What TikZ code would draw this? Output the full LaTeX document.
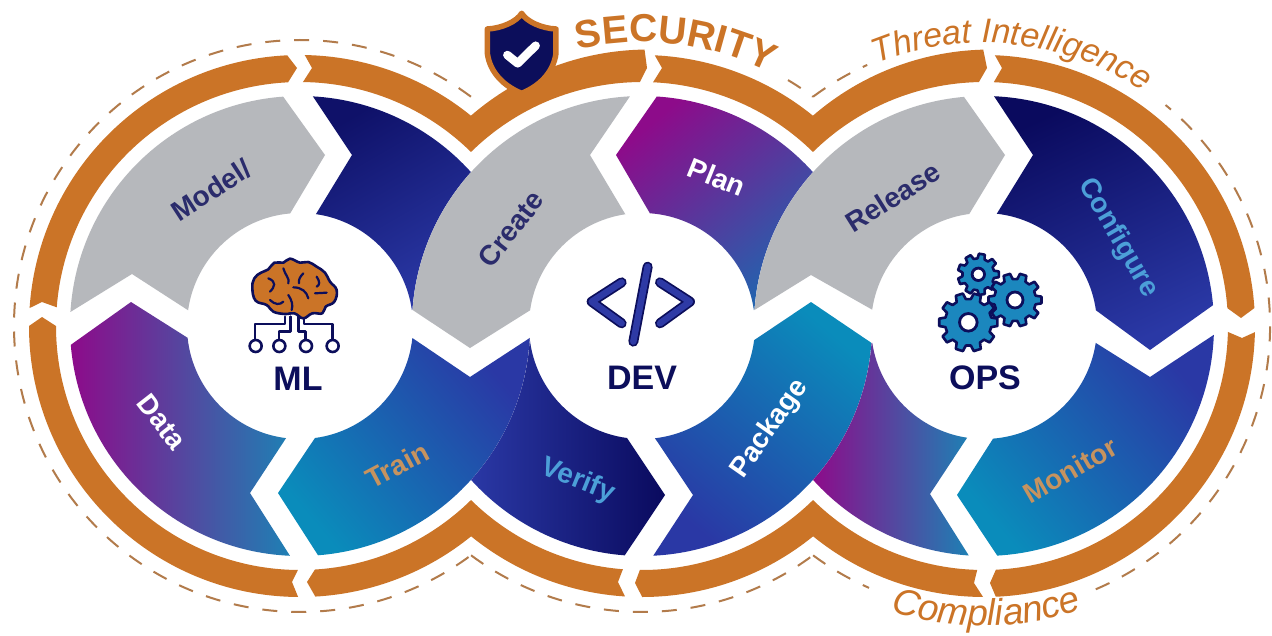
\documentclass[tikz,border=0pt]{standalone}
\usepackage{fontspec}
\setmainfont{Liberation Sans}
\usetikzlibrary{calc,decorations.text}
\definecolor{band}{HTML}{CB7427}
\definecolor{dashc}{HTML}{B27B4B}
\definecolor{stonegray}{HTML}{B6B8BC}
\definecolor{navy}{HTML}{0C0E5B}
\definecolor{grayink}{HTML}{2B2C6C}
\definecolor{tan}{HTML}{C6935F}
\definecolor{skyink}{HTML}{4C9FD8}
\definecolor{magent}{HTML}{8D0B8A}
\definecolor{teal1}{HTML}{0A8CBB}
\definecolor{teal2}{HTML}{1E80B4}
\definecolor{royal}{HTML}{2A38A5}
\definecolor{deep}{HTML}{0A0A5E}
\definecolor{gearfill}{HTML}{1B87BE}
\definecolor{codeblue}{HTML}{2E3AA5}
\tikzset{
  grad/.style n args={3}{top color=#1,bottom color=#2,shading angle=#3},
  stone/.style={fill=stonegray},
  bandseg/.style={fill=band},
  dashring/.style={draw=dashc,line width=2pt,dash pattern=on 15pt off 14pt},
  lab/.style={font=\bfseries\fontsize{28}{28}\selectfont,inner sep=0pt},
  hub/.style={font=\bfseries\fontsize{34}{34}\selectfont,text=navy,inner sep=0pt},
  iconline/.style={draw=navy,line width=2.6pt,line cap=round,line join=round},
  trace/.style={draw=navy,line width=2.6pt,line cap=round,line join=round},
  sulcus/.style={draw=navy,line width=2.2pt,line cap=round},
}
\newcommand\gearicon[5]{%
  \begin{scope}[shift={(#1,#2)}]
    \pgfmathsetmacro\gs{360/#5}
    \draw[fill=gearfill,draw=navy,line width=2.6pt,line join=round]
      ({-0.33*\gs}:#4) \foreach \k in {0,...,\numexpr#5-1\relax}{
        -- ({(\k-0.33)*\gs}:#4) -- ({(\k-0.2)*\gs}:#3) -- ({(\k+0.2)*\gs}:#3) -- ({(\k+0.33)*\gs}:#4)
      } -- cycle;
    \draw[fill=white,draw=navy,line width=2.8pt] (0,0) circle[radius=#3*0.3];
  \end{scope}}
\begin{document}
\begin{tikzpicture}[x=1pt,y=1pt]
\useasboundingbox (0,0) rectangle (1272,-635);
\fill[white] (0,0) rectangle (1272,-635);
\begin{scope}[yscale=-1]
\coordinate (ml) at (300,326);
\coordinate (dv) at (642,326);
\coordinate (op) at (984,326);
% dashed outer ring
\draw[dashring] ($(ml)+(306.7:286)$) arc (306.7:53.3:286);
\draw[dashring] ($(dv)+(126.7:286)$) arc (126.7:53.3:286);
\draw[dashring] ($(op)+(126.7:286)$) arc (126.7:113.7:286);
\draw[dashring] ($(op)+(67:286)$) arc (67:-50.6:286);
\draw[dashring] ($(op)+(233.3:286)$) arc (233.3:245.9:286);
\draw[dashring] ($(dv)+(300.7:286)$) arc (300.7:306.7:286);
% orange bands
\fill[bandseg] ($(ml)+(183.8:271)$) arc (183.8:267.3:271) -- (297,68) -- ($(ml)+(267.2:244)$) arc (267.2:184.4:244) -- (42,302) -- cycle;
\fill[bandseg] ($(ml)+(271:271)$) arc (271:309.1:271) arc (229.1:269.2:271) -- (647,68) -- ($(dv)+(269.5:244)$) arc (269.5:225.5:244) arc (314.5:270.7:244) -- (312,68) -- cycle;
\fill[bandseg] ($(dv)+(272.7:271)$) arc (272.7:309.1:271) arc (229.1:268.5:271) -- (987,68) -- ($(op)+(268.8:244)$) arc (268.8:225.5:244) arc (314.5:272.6:244) -- (662,68) -- cycle;
\fill[bandseg] ($(op)+(272.3:271)$) arc (272.3:356.2:271) -- (1241,318) -- ($(op)+(355.8:244)$) arc (355.8:272.3:244) -- (1002,68) -- cycle;
\fill[bandseg] ($(op)+(1.3:271)$) arc (1.3:87.5:271) -- (990,583) -- ($(op)+(87.2:244)$) arc (87.2:1.4:244) -- (1242,338) -- cycle;
\fill[bandseg] ($(op)+(90.2:271)$) arc (90.2:129.1:271) arc (50.9:90:271) -- (635,583) -- ($(dv)+(90.5:244)$) arc (90.5:45.5:244) arc (134.5:91.6:244) -- (974,583) -- cycle;
\fill[bandseg] ($(dv)+(93.6:271)$) arc (93.6:129.1:271) arc (50.9:86.8:271) -- (307,582) -- ($(ml)+(86.5:244)$) arc (86.5:45.5:244) arc (134.5:94.5:244) -- (618,582) -- cycle;
\fill[bandseg] ($(ml)+(90.4:271)$) arc (90.4:180:271) -- (42,317) -- ($(ml)+(180:244)$) arc (180:90.5:244) -- (292,582) -- cycle;
% ML segments
\path[stone] ($(ml)+(183.5:230)$) arc (183.5:265.8:230) -- (325,155) -- ($(ml)+(265:113)$) arc (265:188:113) -- (132,274) -- cycle;
\path[grad={deep!85!royal}{royal}{30}] ($(ml)+(273.2:230)$) arc (273.2:318:230) arc (222:184:230) -- ($(ml)+(351.9:113)$) arc (351.9:278.1:113) -- (352,155) -- cycle;
\path[grad={magent}{teal2}{90}] ($(ml)+(175.3:230)$) arc (175.3:92.5:230) -- (250,493) -- ($(ml)+(97.1:113)$) arc (97.1:174:113) -- (131,302) -- cycle;
\path[grad={royal}{teal1}{-50}] ($(ml)+(3:230)$) arc (3:85.5:230) -- (278,493) -- ($(ml)+(82.4:113)$) arc (82.4:6.1:113) -- (470,377) -- cycle;
% DEV segments
\path[stone] ($(dv)+(184:230)$) arc (184:267:230) -- (590,155) -- ($(dv)+(261.5:113)$) arc (261.5:188:113) -- (470,348) -- cycle;
\path[grad={magent}{teal2!60!royal}{40}] ($(dv)+(273.7:230)$) arc (273.7:318:230) arc (222:184:230) -- ($(dv)+(351.9:113)$) arc (351.9:274:113) -- (616,155) -- cycle;
\path[grad={royal}{deep}{90}] ($(dv)+(94.3:230)$) arc (94.3:138:230) arc (42:3:230) -- ($(dv)+(174:113)$) arc (174:97.6:113) -- (665,495) -- cycle;
\path[grad={teal1}{royal}{-40}] ($(dv)+(4.2:230)$) arc (4.2:87.2:230) -- (693,495) -- ($(dv)+(83.4:113)$) arc (83.4:7.2:113) -- (811,302) -- cycle;
% OPS segments
\path[stone] ($(op)+(184:230)$) arc (184:265:230) -- (1005,155) -- ($(op)+(262.5:113)$) arc (262.5:188.3:113) -- (811,275) -- cycle;
\path[grad={deep}{royal}{25}] ($(op)+(272.5:230)$) arc (272.5:354.8:230) -- (1150,350) -- ($(op)+(352:113)$) arc (352:276.5:113) -- (1033,155) -- cycle;
\path[grad={royal}{teal1}{-50}] ($(op)+(2.2:230)$) arc (2.2:86.7:230) -- (957,495) -- ($(op)+(85.4:113)$) arc (85.4:8.6:113) -- (1150,377) -- cycle;
\path[grad={magent}{teal2}{90}] ($(op)+(171.4:113)$) arc (171.4:98.6:113) -- (930,494) -- ($(op)+(93.8:230)$) arc (93.8:138:230) arc (42:4.2:230) -- cycle;
% segment labels
\node[lab,text=grayink,rotate=33] (tmodel) at (211,190) {Model/};
\node[lab,text=white,rotate=-52] (tdata) at (162,422) {Data};
\node[lab,text=tan,rotate=28] (ttrain) at (397,465) {Train};
\node[lab,text=grayink,rotate=52] (tcreate) at (511,229) {Create};
\node[lab,text=skyink,rotate=-22] (tverify) at (578,481) {Verify};
\node[lab,text=white,rotate=-22] (tplan) at (717,177) {Plan};
\node[lab,text=white,rotate=55] (tpackage) at (770,429) {Package};
\node[lab,text=grayink,rotate=32] (trelease) at (893,197) {Release};
\node[lab,text=skyink,rotate=-60] (tconfigure) at (1118,238) {Configure};
\node[lab,text=tan,rotate=30] (tmonitor) at (1070,470) {Monitor};
% hubs
\node[hub] (tml) at (298,379) {ML};
\node[hub] (tdev) at (642,378) {DEV};
\node[hub] (tops) at (985,378) {OPS};
% brain icon
\begin{scope}[shift={(235,250)},x=0.3333pt,y=0.3333pt]
  \draw[trace] (150,200) -- (150,222) -- (60,222) -- (60,268);
  \draw[trace] (167,200) -- (167,245) -- (132,245) -- (132,268);
  \draw[trace] (190,200) -- (190,245) -- (212,245) -- (212,268);
  \draw[trace] (207,200) -- (207,222) -- (293,222) -- (293,268);
  \draw[trace,fill=white] (62,288) circle[radius=18];
  \draw[trace,fill=white] (133,288) circle[radius=18];
  \draw[trace,fill=white] (213,288) circle[radius=18];
  \draw[trace,fill=white] (293,288) circle[radius=18];
  \draw[fill=band,iconline] plot[smooth cycle,tension=0.7] coordinates {(52,115) (58,85) (78,68) (100,58) (118,38) (145,38) (165,26) (195,38) (220,36) (245,50) (270,68) (285,95) (305,120) (298,155) (272,170) (262,190) (232,190) (205,205) (178,190) (150,192) (115,185) (95,165) (62,152)};
  \draw[sulcus] (100,85) .. controls (125,95) and (120,110) .. (105,125);
  \draw[sulcus] (145,55) .. controls (150,75) and (165,85) .. (160,100);
  \draw[sulcus] (205,70) .. controls (195,80) and (190,90) .. (192,100);
  \draw[sulcus] (245,80) .. controls (255,95) and (255,105) .. (245,110);
  \draw[sulcus] (175,112) .. controls (200,112) and (215,125) .. (220,145);
  \draw[sulcus] (105,150) .. controls (120,165) and (135,165) .. (145,155);
  \draw[sulcus] (160,135) .. controls (170,150) and (175,165) .. (170,180);
  \draw[sulcus] (240,130) -- (275,128);
\end{scope}
% code icon
\begin{scope}[shift={(575,250)},x=0.3333pt,y=0.3333pt]
  \draw[navy,line width=10pt,line cap=round,line join=round] (140,97) -- (50,155) -- (140,220);
  \draw[navy,line width=10pt,line cap=round] (218,50) -- (175,275);
  \draw[navy,line width=10pt,line cap=round,line join=round] (255,97) -- (345,155) -- (255,220);
  \draw[codeblue,line width=6.5pt,line cap=round,line join=round] (140,97) -- (50,155) -- (140,220);
  \draw[codeblue,line width=6.5pt,line cap=round] (218,50) -- (175,275);
  \draw[codeblue,line width=6.5pt,line cap=round,line join=round] (255,97) -- (345,155) -- (255,220);
\end{scope}
% gears icon
\begin{scope}[shift={(925,245)},x=0.3333pt,y=0.3333pt]
  \gearicon{160}{88}{62}{48}{9}
  \gearicon{270}{165}{80}{63}{10}
  \gearicon{130}{232}{88}{70}{10}
\end{scope}
% shield
\begin{scope}[shift={(475,5)},x=0.3333pt,y=0.3333pt]
  \draw[fill=navy,draw=band,line width=5.5pt,line join=round] (140,25) .. controls (155,50) and (200,70) .. (243,72) -- (243,145) .. controls (235,205) and (190,245) .. (140,265) .. controls (90,245) and (45,205) .. (37,145) -- (37,72) .. controls (80,70) and (125,50) .. (140,25) -- cycle;
  \draw[white,line width=8.5pt,line cap=round,line join=round] (97,150) -- (128,175) -- (182,122);
\end{scope}
\end{scope}
% curved captions (y upward here)
\coordinate (dvu) at (642,-326);
\coordinate (opu) at (984,-326);
\path[decorate,decoration={text along path,text align=center,text={|\bfseries\fontsize{39}{39}\selectfont\color{band}|SECURITY}}]
  ($(dvu)+(113.2:284)$) arc (113.2:53.2:284);
\path[decorate,decoration={text along path,text align=center,text={|\itshape\fontsize{34}{34}\selectfont\color{band}|Threat Intelligence}}]
  ($(opu)+(129:283)$) arc (129:39:283);
\path[decorate,decoration={text along path,text align=center,text={|\itshape\fontsize{37}{37}\selectfont\color{band}|Compliance}}]
  ($(opu)+(235.5:300)$) arc (235.5:305.5:300);
\end{tikzpicture}
\end{document}
